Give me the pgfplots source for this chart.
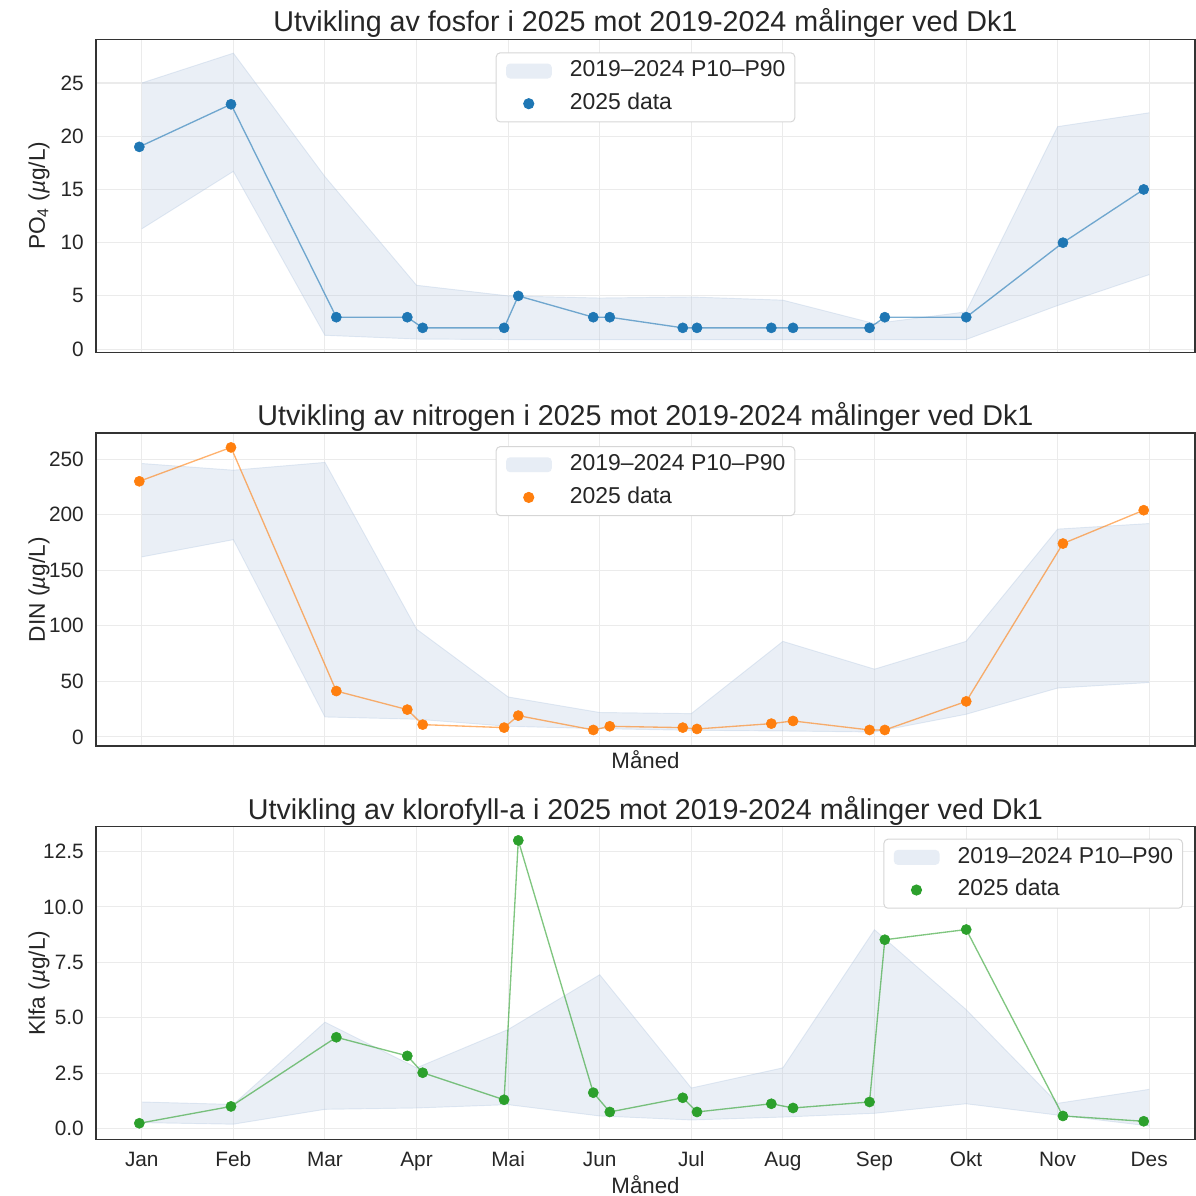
\documentclass[border=0pt]{standalone}
\usepackage{fontspec}
\setmainfont{Liberation Sans}
\usepackage{pgfplots}
\pgfplotsset{compat=1.18}
\usepgfplotslibrary{fillbetween}
\definecolor{bandc}{RGB}{176,196,222}
\definecolor{tabblue}{RGB}{31,119,180}
\definecolor{taborange}{RGB}{255,127,14}
\definecolor{tabgreen}{RGB}{44,160,44}
\definecolor{txt}{RGB}{38,38,38}
\definecolor{gridc}{RGB}{235,235,235}
\definecolor{framec}{RGB}{51,51,51}
\definecolor{legc}{RGB}{214,214,214}

\pgfplotsset{
 panel/.style={
  width=824.25pt, height=234.75pt, scale only axis,
  xmin=0.5, xmax=12.5,
  xtick={1,...,12},
  grid=major,
  major grid style={draw=gridc, line width=0.8pt},
  major tick length=0pt,
  axis line style={draw=framec, line width=0.95pt},
  tick label style={font=\fontsize{15.6}{18}\selectfont, text=txt},
  /pgf/number format/assume math mode=true,
  yticklabel style={inner sep=0pt, xshift=-9pt},
  xticklabel style={inner sep=0pt, yshift=-8.6pt, text height=11.2pt, anchor=north},
  title style={font=\fontsize{21.5}{25}\selectfont, text=txt, at={(0.5,1)}, anchor=base, yshift=-0.3pt, inner sep=0pt},
  ylabel style={font=\fontsize{17}{20}\selectfont, text=txt, at={(axis description cs:-0.0419,0.5)}, anchor=south, inner sep=0pt},
  xlabel style={font=\fontsize{16.7}{20}\selectfont, text=txt, at={(axis description cs:0.5,0)}, anchor=base, inner sep=0pt},
  legend cell align=left,
  legend style={draw=legc, line width=0.75pt, rounded corners=3pt, fill=white,
    font=\fontsize{17.2}{20}\selectfont, text=txt,
    inner xsep=7pt, inner ysep=5.5pt, row sep=8.2pt,
    nodes={inner sep=0pt, text height=12.5pt, text depth=3.8pt}},
 },
 bandedge/.style={draw=bandc, draw opacity=0.35, line width=0.7pt, forget plot},
 bandfill/.style={fill=bandc, fill opacity=0.27, draw=none,
   legend image code/.code={\fill[bandc, fill opacity=0.3] (0pt,-5.6pt) rectangle (34.3pt,5.6pt); \path (47.5pt,0pt);}},
 dataline/.style={color=#1, opacity=0.6, line width=1pt, forget plot},
 datamarks/.style={only marks, mark=*, mark size=3.8pt, color=#1, mark options={draw=#1, fill=#1},
   legend image code/.code={\fill[#1] (17pt,0pt) circle (3.8pt); \path (0pt,0pt) (47.5pt,0pt);}},
}

\begin{document}
\begin{tikzpicture}

% ---------- Panel 1: PO4 ----------
\begin{axis}[panel, at={(0pt,0pt)}, anchor=north west,
  ymin=-0.3, ymax=29.1, ytick={0,5,10,15,20,25},
  xticklabels={},
  title={Utvikling av fosfor i 2025 mot 2019-2024 målinger ved Dk1},
  ylabel={PO\textsubscript{4} (\textit{µ}g/L)},
  legend style={at={(0.5,1)}, anchor=north, yshift=-9.75pt},
]
\addplot[bandedge, name path=up] coordinates {
(1,25.0) (2,27.8) (3,16.2) (4,6.0) (5,5.0) (6,4.8) (7,4.9) (8,4.6) (9,2.4) (10,3.5) (11,20.9) (12,22.2)};
\addplot[bandedge, name path=lo] coordinates {
(1,11.3) (2,16.7) (3,1.3) (4,0.95) (5,0.9) (6,0.9) (7,0.9) (8,0.9) (9,0.9) (10,0.9) (11,4.1) (12,7.0)};
\addplot[bandfill] fill between[of=up and lo];
\addlegendentry{2019–2024 P10–P90}
\addplot[dataline=tabblue] coordinates {
(0.973,19) (1.974,23) (3.124,3) (3.899,3) (4.067,2) (4.956,2) (5.111,5) (5.93,3) (6.11,3)
(6.907,2) (7.062,2) (7.874,2) (8.111,2) (8.946,2) (9.113,3) (10.002,3) (11.058,10) (11.94,15)};
\addplot[datamarks=tabblue] coordinates {
(0.973,19) (1.974,23) (3.124,3) (3.899,3) (4.067,2) (4.956,2) (5.111,5) (5.93,3) (6.11,3)
(6.907,2) (7.062,2) (7.874,2) (8.111,2) (8.946,2) (9.113,3) (10.002,3) (11.058,10) (11.94,15)};
\addlegendentry{2025 data}
\end{axis}

% ---------- Panel 2: DIN ----------
\begin{axis}[panel, at={(0pt,-295.3pt)}, anchor=north west,
  ymin=-8.2, ymax=273.4, ytick={0,50,100,150,200,250},
  xticklabels={},
  title={Utvikling av nitrogen i 2025 mot 2019-2024 målinger ved Dk1},
  ylabel={DIN (\textit{µ}g/L)},
  xlabel={Måned}, xlabel style={yshift=-16.5pt},
  legend style={at={(0.5,1)}, anchor=north, yshift=-9.75pt},
]
\addplot[bandedge, name path=up] coordinates {
(1,246) (2,240) (3,247) (4,97) (5,36) (6,22) (7,21) (8,86) (9,61) (10,86) (11,187) (12,192)};
\addplot[bandedge, name path=lo] coordinates {
(1,162) (2,177.5) (3,18) (4,16) (5,9.6) (6,7.5) (7,6) (8,5.4) (9,4.5) (10,20.4) (11,44) (12,49)};
\addplot[bandfill] fill between[of=up and lo];
\addlegendentry{2019–2024 P10–P90}
\addplot[dataline=taborange] coordinates {
(0.973,230) (1.974,260.5) (3.124,41.3) (3.899,24.6) (4.067,11.1) (4.956,8.4) (5.111,19.2) (5.93,6.3) (6.11,9.6)
(6.907,8.4) (7.062,7.2) (7.874,12) (8.111,14.4) (8.946,6.3) (9.113,6.3) (10.002,32) (11.058,174) (11.94,204)};
\addplot[datamarks=taborange] coordinates {
(0.973,230) (1.974,260.5) (3.124,41.3) (3.899,24.6) (4.067,11.1) (4.956,8.4) (5.111,19.2) (5.93,6.3) (6.11,9.6)
(6.907,8.4) (7.062,7.2) (7.874,12) (8.111,14.4) (8.946,6.3) (9.113,6.3) (10.002,32) (11.058,174) (11.94,204)};
\addlegendentry{2025 data}
\end{axis}

% ---------- Panel 3: Klfa ----------
\begin{axis}[panel, at={(0pt,-590.5pt)}, anchor=north west,
  ymin=-0.5, ymax=13.62, ytick={0,2.5,5,7.5,10,12.5},
  yticklabels={0.0,2.5,5.0,7.5,10.0,12.5},
  xticklabels={Jan,Feb,Mar,Apr,Mai,Jun,Jul,Aug,Sep,Okt,Nov,Des},
  title={Utvikling av klorofyll-a i 2025 mot 2019-2024 målinger ved Dk1},
  ylabel={Klfa (\textit{µ}g/L)},
  xlabel={Måned}, xlabel style={yshift=-40.5pt},
  legend style={at={(1,1)}, anchor=north east, xshift=-9pt, yshift=-9pt},
]
\addplot[bandedge, name path=up] coordinates {
(1,1.2) (2,1.09) (3,4.8) (4,2.74) (5,4.47) (6,6.94) (7,1.83) (8,2.74) (9,8.97) (10,5.37) (11,1.14) (12,1.77)};
\addplot[bandedge, name path=lo] coordinates {
(1,0.27) (2,0.2) (3,0.87) (4,0.93) (5,1.08) (6,0.57) (7,0.39) (8,0.52) (9,0.69) (10,1.12) (11,0.61) (12,0.12)};
\addplot[bandfill] fill between[of=up and lo];
\addlegendentry{2019–2024 P10–P90}
\addplot[dataline=tabgreen] coordinates {
(0.973,0.24) (1.974,1.0) (3.124,4.12) (3.899,3.28) (4.067,2.52) (4.956,1.30) (5.111,13.0) (5.93,1.62) (6.11,0.75)
(6.907,1.39) (7.062,0.75) (7.874,1.12) (8.111,0.93) (8.946,1.2) (9.113,8.52) (10.002,8.98) (11.058,0.57) (11.94,0.33)};
\addplot[datamarks=tabgreen] coordinates {
(0.973,0.24) (1.974,1.0) (3.124,4.12) (3.899,3.28) (4.067,2.52) (4.956,1.30) (5.111,13.0) (5.93,1.62) (6.11,0.75)
(6.907,1.39) (7.062,0.75) (7.874,1.12) (8.111,0.93) (8.946,1.2) (9.113,8.52) (10.002,8.98) (11.058,0.57) (11.94,0.33)};
\addlegendentry{2025 data}
\end{axis}
\pgfresetboundingbox
\path[use as bounding box] (-72pt,29.5pt) rectangle (825pt,-867.5pt);
\end{tikzpicture}
\end{document}
